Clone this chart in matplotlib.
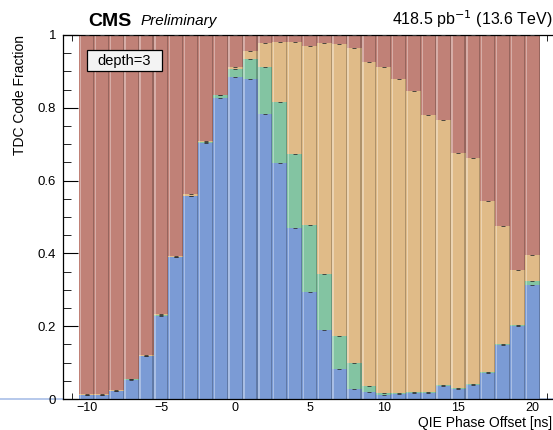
import numpy as np
import matplotlib
matplotlib.use("Agg")
import matplotlib.pyplot as plt
import matplotlib.colors as mcolors
from matplotlib.patches import Rectangle

plt.rcParams['font.family'] = ['Liberation Sans', 'DejaVu Sans']

# ---- data ----
phase = list(range(-10, 21))
frac_blue = [0.010, 0.010, 0.021, 0.052, 0.117, 0.229, 0.389, 0.557, 0.702, 0.827,
             0.885, 0.880, 0.782, 0.649, 0.470, 0.294, 0.190, 0.082, 0.028, 0.018,
             0.010, 0.014, 0.017, 0.016, 0.037, 0.027, 0.039, 0.072, 0.148, 0.201, 0.314]
frac_green = [0.001, 0.001, 0.002, 0.002, 0.002, 0.002, 0.002, 0.002, 0.004, 0.007,
              0.021, 0.055, 0.129, 0.167, 0.202, 0.185, 0.154, 0.090, 0.070, 0.019,
              0.007, 0.003, 0.002, 0.002, 0.002, 0.002, 0.002, 0.003, 0.003, 0.003, 0.011]
frac_orange = [0.004, 0.004, 0.002, 0.002, 0.002, 0.002, 0.002, 0.003, 0.004, 0.002,
               0.007, 0.022, 0.067, 0.164, 0.308, 0.491, 0.635, 0.803, 0.866, 0.890,
               0.894, 0.861, 0.826, 0.762, 0.727, 0.648, 0.620, 0.470, 0.324, 0.151, 0.071]
frac_red = [1 - b - g - o for b, g, o in zip(frac_blue, frac_green, frac_orange)]

series = [frac_blue, frac_green, frac_orange, frac_red]
colors = ['#7b9bd5', '#83c4a2', '#e0bb88', '#c08177']

# ---- figure ----
W, H = 553, 430
fig = plt.figure(figsize=(W / 100, H / 100), dpi=100)
ax_l, ax_r, ax_b, ax_t = 63, 557, 399, 35
ax = fig.add_axes([ax_l / W, (H - ax_b) / H, (ax_r - ax_l) / W, (ax_b - ax_t) / H])

x = np.array(phase, dtype=float)
bottom = np.zeros(len(x))
for vals, c in zip(series, colors):
    v = np.array(vals)
    ax.bar(x, v, width=1.0, bottom=bottom, color=c, linewidth=0, zorder=1)
    rgb = np.array(mcolors.to_rgb(c))
    light = rgb + (1 - rgb) * 0.35
    dark = rgb * 0.78
    ax.bar(x - 0.42, v, width=0.1, bottom=bottom, color=light, linewidth=0, zorder=1.1)
    ax.bar(x + 0.46, v, width=0.08, bottom=bottom, color=dark, linewidth=0, zorder=1.1)
    bottom = bottom + v
    ax.plot(x, bottom, ls='none', marker='_', ms=2.2, mew=0.6, color='#333333', zorder=3)

ax.set_xlim(-11.6, 21.65)
ax.set_ylim(0, 1)
ax.set_axisbelow(True)

ax.set_xticks([-10, -5, 0, 5, 10, 15, 20])
ax.set_xticks(np.arange(-11, 22, 1), minor=True)
ax.set_yticks([0, 0.2, 0.4, 0.6, 0.8, 1.0])
ax.set_yticklabels(['0', '0.2', '0.4', '0.6', '0.8', '1'])
ax.set_yticks(np.arange(0, 1.001, 0.05), minor=True)
ax.tick_params(axis='both', which='both', direction='in', top=True, right=False)
ax.tick_params(axis='y', which='major', length=10.5, pad=5, labelsize=9.5)
ax.tick_params(axis='y', which='minor', length=5.4)
ax.tick_params(axis='x', which='major', length=8, pad=2, labelsize=9)
ax.tick_params(axis='x', which='minor', length=4.3)
ax.spines['right'].set_visible(False)
for s in ax.spines.values():
    s.set_linewidth(0.9)

ax.set_xlabel('QIE Phase Offset [ns]', fontsize=10)
ax.xaxis.set_label_coords((552 - ax_l) / (ax_r - ax_l), -(427.5 - ax_b) / (ax_b - ax_t))
ax.xaxis.label.set_ha('right')
ax.xaxis.label.set_va('baseline')
ax.set_ylabel('TDC Code Fraction', fontsize=10, loc='top', labelpad=8)

# light baseline outside the frame
ax.plot([-0.13, 0.0], [0, 0], transform=ax.get_yaxis_transform(), color='#a9bfe8',
        lw=1.2, clip_on=False, zorder=0.5)
ax.plot([20.5, 22.5], [0, 0], color='#a9bfe8', lw=1.2, clip_on=False, zorder=0.5)

# legend-like box
box = Rectangle((0.0486, 0.9008), 0.1518, 0.0579, transform=ax.transAxes,
                facecolor='#f3f3f3', edgecolor='black', linewidth=0.9, zorder=4)
ax.add_patch(box)
ax.text(0.0486 + 0.1518 / 2, 0.9008 + 0.0579 / 2, 'depth=3', transform=ax.transAxes,
        ha='center', va='center', fontsize=10.5, zorder=5)

# header texts
fig.text(88 / W, (H - 25.5) / H, 'CMS', fontsize=14, fontweight='bold', ha='left', va='baseline')
fig.text(141 / W, (H - 25.5) / H, 'Preliminary', fontsize=11, style='italic', ha='left', va='baseline')
fig.text(552 / W, (H - 25.5) / H, r'418.5 pb$^{-1}$ (13.6 TeV)', fontsize=11.5, ha='right', va='baseline')

fig.savefig('out.png', dpi=100)
